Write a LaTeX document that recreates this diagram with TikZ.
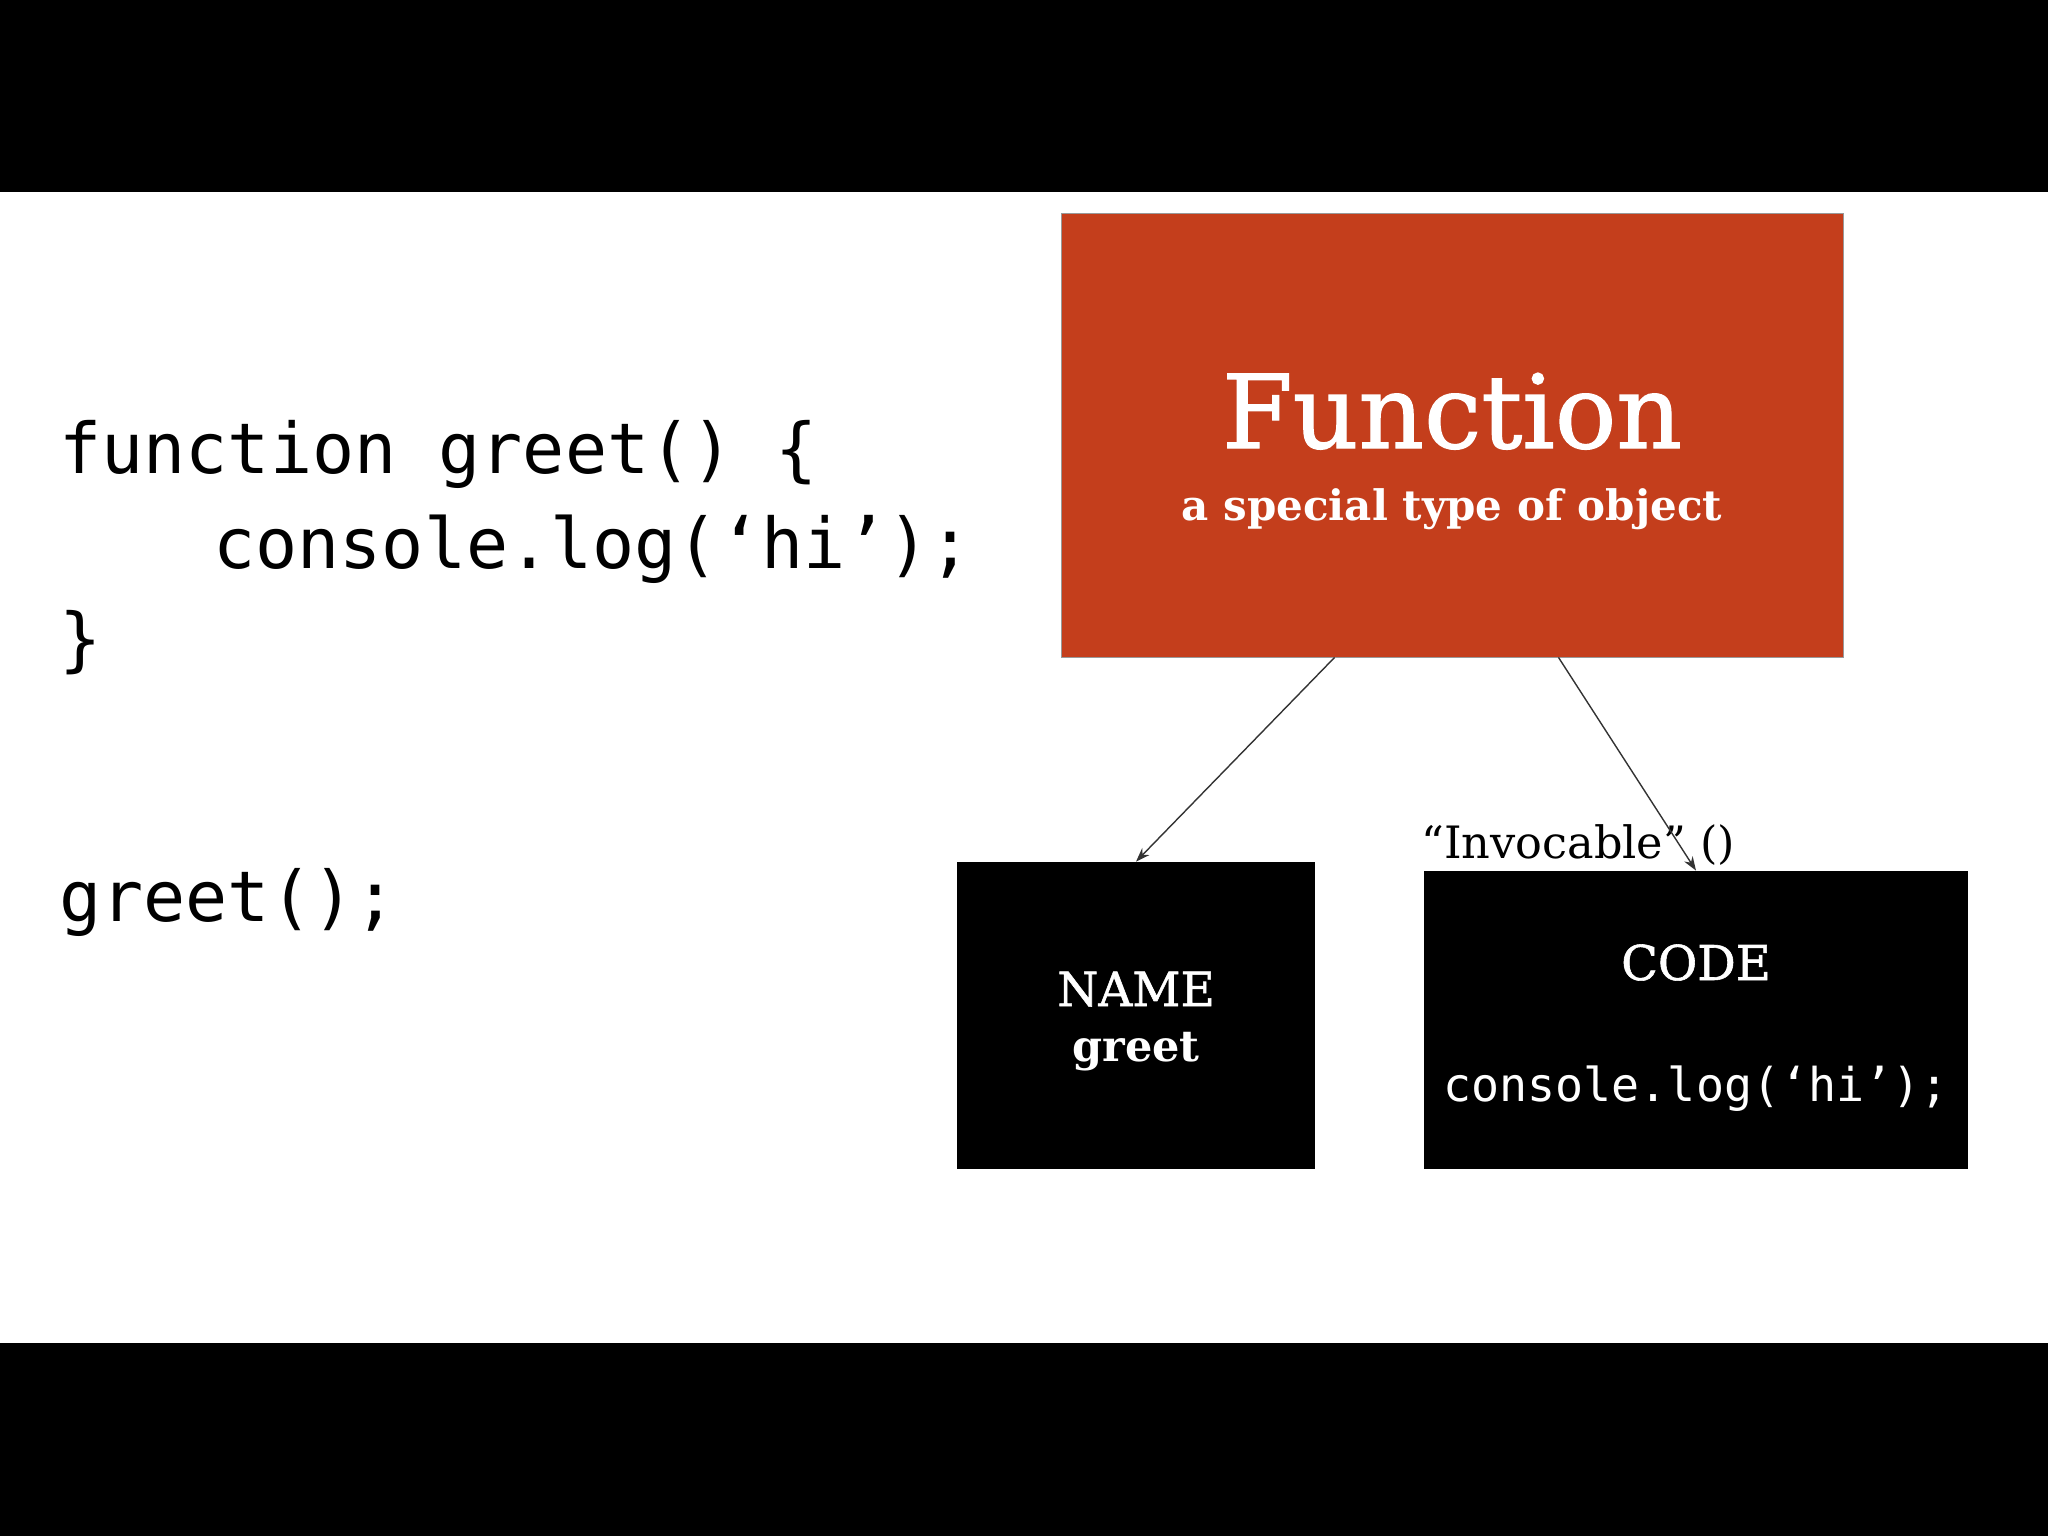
\documentclass[tikz,border=0pt]{standalone}
\usepackage{fontspec}
\setmainfont{DejaVu Serif}
\newfontfamily\codefont{DejaVu Sans Mono}
% regular serif thickened a little, for a heavier slab look
\newfontfamily\slabfont[BoldFont={DejaVu Serif},BoldFeatures={FakeBold=1.2}]{DejaVu Serif}
\usetikzlibrary{arrows.meta,calc}
\definecolor{fnred}{RGB}{196,62,28}
\begin{document}
\begin{tikzpicture}[x=0.5pt,y=-0.5pt,
  band/.style={fill=black,draw=none},
  boxnode/.style={rectangle,inner sep=0pt,draw=none},
  code/.style={font=\codefont\fontsize{35}{35}\selectfont,anchor=base west,inner sep=0pt},
  boxcode/.style={font=\codefont\fontsize{23.3}{23.3}\selectfont,text=white,anchor=base,inner sep=0pt},
  label/.style={text=white,anchor=base,inner sep=0pt},
  link/.style={draw=black!80,line width=0.7pt,-{Stealth[length=7pt,width=5pt]}}]
\useasboundingbox (0,0) rectangle (2048,1536);
\fill[white] (0,0) rectangle (2048,1536);
% letterbox bands
\fill[band] (0,0) rectangle (2048,192);
\fill[band] (0,1343) rectangle (2048,1536);

% source code on the left
\node[code] (l1) at (59,473) {function greet() \{};
\node[code] (l2) at (213,568) {console.log(‘hi’);};
\node[code] (l3) at (59,663) {\}};
\node[code] (call) at (59,921) {greet();};

% function object
\node[boxnode,fill=fnred,draw=black!40,line width=0.4pt,minimum width=391pt,minimum height=222pt] (fn) at (1452,435) {};
\node[label,font=\slabfont\bfseries\fontsize{51}{51}\selectfont] (fntitle) at (1452,448) {Function};
\node[label,font=\bfseries\fontsize{21}{21}\selectfont] (fnsub) at (1452,520) {a special type of object};

% name box
\node[boxnode,fill=black,minimum width=179pt,minimum height=153.5pt] (name) at (1136,1015.5) {};
\node[label,font=\slabfont\bfseries\fontsize{23.5}{23.5}\selectfont] (namet) at (1136,1006) {NAME};
\node[label,font=\bfseries\fontsize{21.5}{21.5}\selectfont] (namev) at (1136,1061) {greet};

% code box
\node[boxnode,fill=black,minimum width=272pt,minimum height=149pt] (codebox) at (1696,1020) {};
\node[label,font=\slabfont\bfseries\fontsize{24}{24}\selectfont] (codet) at (1696,980) {CODE};
\node[boxcode] (codev) at (1696,1101) {console.log(‘hi’);};

% invocable note
\node[anchor=base west,inner sep=0pt,font=\fontsize{22.3}{22.3}\selectfont] (inv) at (1421,858) {“Invocable” ()};

% connectors
\draw[link] ($(fn.south west)!0.35!(fn.south east)$) -- (name.north);
\draw[link] ($(fn.south west)!0.636!(fn.south east)$) -- (codebox.north);
\end{tikzpicture}
\end{document}
